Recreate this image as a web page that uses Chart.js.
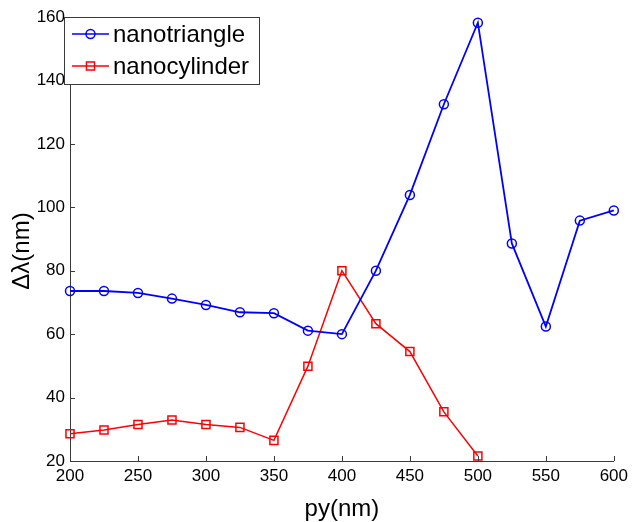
<!DOCTYPE html>
<html>
<head>
<meta charset="utf-8">
<script src="https://cdn.jsdelivr.net/npm/chart.js@4/dist/chart.umd.min.js"></script>
<style>
  html, body { margin: 0; padding: 0; background: #fff; }
  #chart { display: block; }
</style>
</head>
<body>
<canvas id="chart" width="633" height="522"></canvas>
<script>
// x positions (py, nm)
const pyValues = [200, 225, 250, 275, 300, 325, 350, 375, 400, 425, 450, 475, 500, 525, 550, 575, 600];

// Δλ (nm)
const nanotriangle = [73.6, 73.6, 73.0, 71.2, 69.2, 66.9, 66.6, 61.1, 60.0, 80.0, 103.9, 132.5, 158.2, 88.6, 62.4, 95.8, 99.0];
const nanocylinder = [28.6, 29.8, 31.5, 32.9, 31.5, 30.6, 26.5, 49.9, 80.0, 63.3, 54.5, 35.5, 21.6];

const seriesNames = ['nanotriangle', 'nanocylinder'];
const seriesColors = ['#0000ff', '#ff0000'];

const xTicks = [200, 250, 300, 350, 400, 450, 500, 550, 600];
const yTicks = [20, 40, 60, 80, 100, 120, 140, 160];

const xTitle = 'py(nm)';
const yTitle = 'Δλ(nm)';

const toPoints = (ys) => ys.map((y, i) => ({ x: pyValues[i], y: y }));

const FONT = '"Liberation Sans", Arial, sans-serif';
const AXIS_COLOR = '#3a3a3a';

// MATLAB style ticks pointing into the plot area, plus the y title
const inwardTicks = {
  id: 'inwardTicks',
  afterDraw(chart) {
    const { ctx, chartArea, scales } = chart;
    ctx.save();
    ctx.strokeStyle = AXIS_COLOR;
    ctx.lineWidth = 1;
    ctx.beginPath();
    xTicks.forEach(v => {
      const px = Math.round(scales.x.getPixelForValue(v)) + 0.5;
      ctx.moveTo(px, chartArea.bottom);
      ctx.lineTo(px, chartArea.bottom - 5);
    });
    yTicks.forEach(v => {
      const py = Math.round(scales.y.getPixelForValue(v)) + 0.5;
      ctx.moveTo(chartArea.left, py);
      ctx.lineTo(chartArea.left + 5, py);
    });
    ctx.stroke();

    // y axis title, sits a bit below the axis centre in the original
    ctx.translate(22, 251);
    ctx.rotate(-Math.PI / 2);
    ctx.font = '24px ' + FONT;
    ctx.fillStyle = '#000';
    ctx.textAlign = 'center';
    ctx.textBaseline = 'middle';
    ctx.fillText(yTitle, 0, 0);
    ctx.restore();
  }
};

// boxed legend in the upper left corner
const boxLegend = {
  id: 'boxLegend',
  afterDraw(chart) {
    const { ctx } = chart;
    const box = { x: 64.5, y: 17.5, w: 195, h: 67 };
    ctx.save();
    ctx.fillStyle = '#fff';
    ctx.fillRect(box.x, box.y, box.w, box.h);
    ctx.strokeStyle = AXIS_COLOR;
    ctx.lineWidth = 1;
    ctx.strokeRect(box.x, box.y, box.w, box.h);

    ctx.font = '24px ' + FONT;
    ctx.textBaseline = 'middle';
    chart.data.datasets.forEach((ds, i) => {
      const cy = 34 + i * 32;
      ctx.strokeStyle = ds.borderColor;
      ctx.lineWidth = 1.5;
      ctx.beginPath();
      ctx.moveTo(72, cy);
      ctx.lineTo(109, cy);
      ctx.stroke();
      ctx.fillStyle = 'rgba(0,0,0,0)';
      Chart.helpers.drawPoint(ctx, {
        pointStyle: ds.pointStyle,
        radius: ds.pointRadius,
        borderWidth: 1.5
      }, 90.5, cy);
      ctx.fillStyle = '#000';
      ctx.fillText(ds.label, 113, cy + 1);
    });
    ctx.restore();
  }
};

new Chart(document.getElementById('chart'), {
  type: 'line',
  data: {
    datasets: [
      {
        label: seriesNames[0],
        data: toPoints(nanotriangle),
        borderColor: seriesColors[0],
        backgroundColor: 'rgba(0,0,0,0)',
        borderWidth: 1.8,
        pointStyle: 'circle',
        pointRadius: 4.5,
        pointBorderWidth: 1.5,
        pointBackgroundColor: 'rgba(0,0,0,0)',
        tension: 0,
        clip: false
      },
      {
        label: seriesNames[1],
        data: toPoints(nanocylinder),
        borderColor: seriesColors[1],
        backgroundColor: 'rgba(0,0,0,0)',
        borderWidth: 1.5,
        pointStyle: 'rect',
        pointRadius: 5.7,
        pointBorderWidth: 1.5,
        pointBackgroundColor: 'rgba(0,0,0,0)',
        tension: 0,
        clip: false
      }
    ]
  },
  options: {
    responsive: false,
    animation: false,
    layout: { padding: { left: 0, right: 18, top: 17, bottom: 0 } },
    plugins: {
      legend: { display: false },
      tooltip: { enabled: false }
    },
    scales: {
      x: {
        type: 'linear',
        min: 200,
        max: 600,
        afterFit: (scale) => { scale.height = 61; },
        afterBuildTicks: (scale) => { scale.ticks = xTicks.map(v => ({ value: v })); },
        grid: { display: true, drawOnChartArea: false, drawTicks: false },
        border: { display: true, color: AXIS_COLOR, width: 1 },
        ticks: {
          color: '#000',
          padding: 5,
          maxRotation: 0,
          font: { family: FONT, size: 17 }
        },
        title: {
          display: true,
          text: xTitle,
          color: '#000',
          font: { family: FONT, size: 24, lineHeight: 1 },
          padding: { top: 0, bottom: 1 }
        }
      },
      y: {
        type: 'linear',
        min: 20,
        max: 160,
        afterFit: (scale) => { scale.width = 70; },
        afterBuildTicks: (scale) => { scale.ticks = yTicks.map(v => ({ value: v })); },
        grid: { display: true, drawOnChartArea: false, drawTicks: false },
        border: { display: true, color: AXIS_COLOR, width: 1 },
        ticks: {
          color: '#000',
          padding: 5,
          font: { family: FONT, size: 17 }
        },
        title: { display: false }
      }
    }
  },
  plugins: [inwardTicks, boxLegend]
});
</script>
</body>
</html>
